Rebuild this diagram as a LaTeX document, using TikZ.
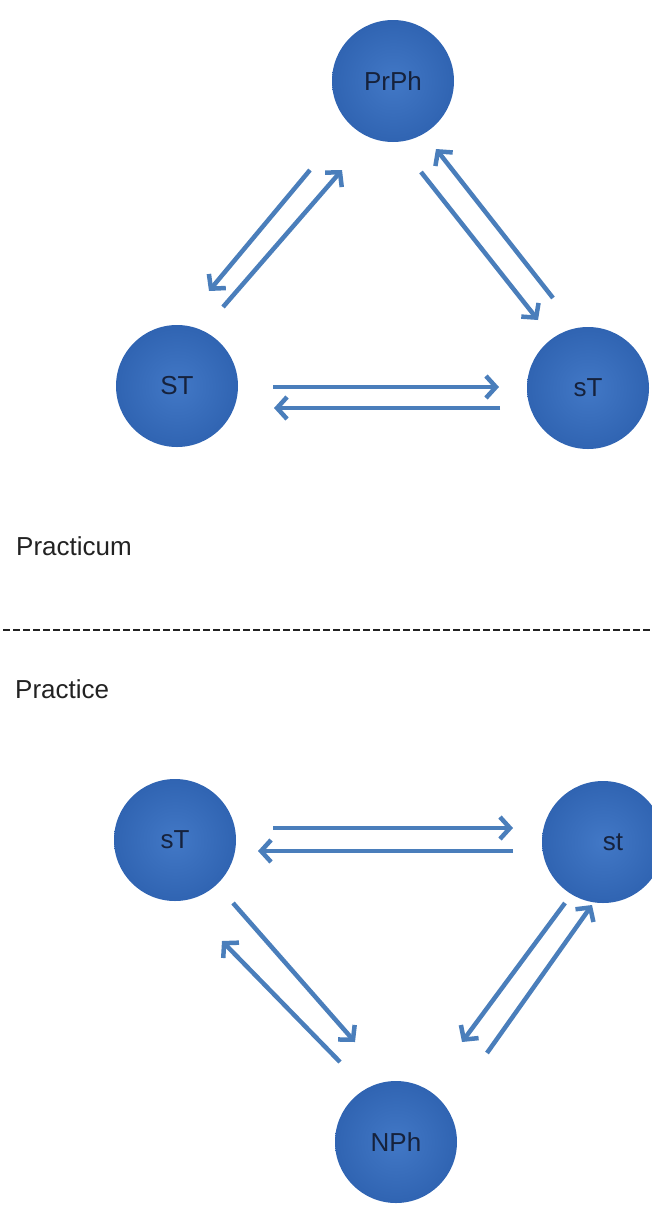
\documentclass[tikz,border=0pt]{standalone}
\usepackage{fontspec}
\setmainfont{Liberation Sans}
\usetikzlibrary{arrows.meta}
\definecolor{ballin}{RGB}{66,120,198}
\definecolor{ballout}{RGB}{48,100,178}
\definecolor{arrowblue}{RGB}{74,126,187}
\definecolor{labelnavy}{RGB}{22,34,60}
\definecolor{textgray}{RGB}{34,34,34}
\tikzset{
  ball/.style={circle, minimum size=122pt, inner sep=0pt, shading=radial,
    inner color=ballin, outer color=ballout, text=labelnavy,
    font=\fontsize{26}{30}\selectfont},
  link/.style={draw=arrowblue, line width=4.5pt,
    -{Straight Barb[length=10pt,width=22pt,line width=4.5pt]}},
  heading/.style={anchor=base west, inner sep=0pt, text=textgray,
    font=\fontsize{26}{30}\selectfont},
  divider/.style={draw=textgray, line width=1.4pt, dash pattern=on 7pt off 3pt}
}
\begin{document}
\begin{tikzpicture}[x=1pt,y=-1pt]
\useasboundingbox (0,0) rectangle (652,1208);
\clip (0,0) rectangle (652,1208);
% top diagram
\node[ball] (prph) at (393,81) {PrPh};
\node[ball] (ST) at (177,386) {ST};
\node[ball] (sTa) at (588,388) {sT};
\coordinate (a1s) at (310,170); \coordinate (a1e) at (209,291);
\coordinate (a2s) at (223,307); \coordinate (a2e) at (342,170);
\coordinate (a3s) at (421,172); \coordinate (a3e) at (538,320);
\coordinate (a4s) at (553,298); \coordinate (a4e) at (436,149);
\coordinate (a5s) at (273,387); \coordinate (a5e) at (499,387);
\coordinate (a6s) at (500,408); \coordinate (a6e) at (274,408);
\draw[link] (a1s) -- (a1e);
\draw[link] (a2s) -- (a2e);
\draw[link] (a3s) -- (a3e);
\draw[link] (a4s) -- (a4e);
\draw[link] (a5s) -- (a5e);
\draw[link] (a6s) -- (a6e);
% headings and divider
\node[heading] (practicum) at (16,555) {Practicum};
\coordinate (dl) at (3,630); \coordinate (dr) at (652,630);
\draw[divider] (dl) -- (dr);
\node[heading] (practice) at (15,698) {Practice};
% bottom diagram
\node[ball] (sTb) at (175,840) {sT};
\node[ball] (st) at (603,842) {\hspace*{20pt}st};
\node[ball] (nph) at (396,1142) {NPh};
\coordinate (b1s) at (273,828); \coordinate (b1e) at (513,828);
\coordinate (b2s) at (513,851); \coordinate (b2e) at (258,851);
\coordinate (b3s) at (233,903); \coordinate (b3e) at (355,1042);
\coordinate (b4s) at (340,1062); \coordinate (b4e) at (222,941);
\coordinate (b5s) at (565,903); \coordinate (b5e) at (462,1042);
\coordinate (b6s) at (487,1053); \coordinate (b6e) at (592,905);
\draw[link] (b1s) -- (b1e);
\draw[link] (b2s) -- (b2e);
\draw[link] (b3s) -- (b3e);
\draw[link] (b4s) -- (b4e);
\draw[link] (b5s) -- (b5e);
\draw[link] (b6s) -- (b6e);
\end{tikzpicture}
\end{document}
